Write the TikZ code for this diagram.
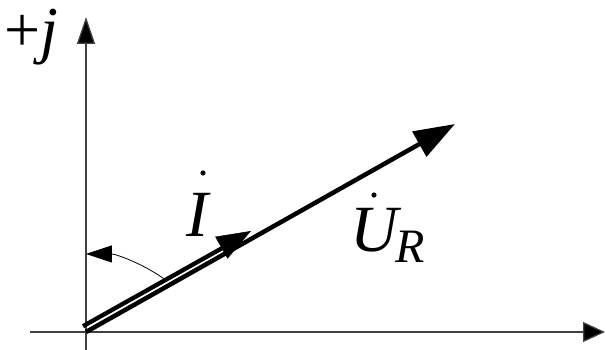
\documentclass[tikz,border=0pt]{standalone}
\usepackage{fontspec}
\setmainfont{Liberation Serif}
\usetikzlibrary{arrows.meta,calc}
\tikzset{
  axis/.style={line width=1.3pt, black!75},
  bigtxt/.style={inner sep=0pt, font=\fontsize{66}{66}\selectfont},
  subtxt/.style={inner sep=0pt, font=\fontsize{48}{48}\selectfont},
  jtxt/.style={inner sep=0pt, font=\fontsize{64}{64}\selectfont},
  vecU/.style={line width=4.5pt, -{Triangle[length=41pt,width=28pt]}},
  vecIline/.style={draw=black, line width=4.3pt},
  vecItip/.style={line width=0.5pt, -{Triangle[length=34pt,width=25pt]}},
  dotmark/.style={fill=black, draw=none}
}
\begin{document}
\begin{tikzpicture}[x=1pt,y=-1pt]
\useasboundingbox (0,0) rectangle (606,350);
% coordinates
\coordinate (O) at (86,332);
\coordinate (xs) at (30,332);
\coordinate (xe) at (605,332);
\coordinate (ys) at (86,350);
\coordinate (ye) at (86,17);
\coordinate (UT) at (455,124);
\coordinate (I0) at (83,326.2);
\coordinate (I1) at (227,245.4);
\coordinate (IB) at (219,249);
\coordinate (IT) at (251,231);
\coordinate (A0) at (167,281);
% axes
\draw[axis, -{Triangle[length=22pt,width=20pt,fill=black]}] (xs) -- (xe);
\draw[axis, -{Triangle[length=27pt,width=18pt,fill=black]}] (ys) -- (ye);
% U_R phasor
\draw[vecU] (O) -- (UT);
% I phasor: upper stroke of the double line (lower stroke shared with U_R)
\draw[vecIline] (I0) -- (I1);
\draw[vecItip] (IB) -- (IT);
% angle arc
\draw[line width=0.8pt, -{Triangle[length=26pt,width=17pt]}] (A0) arc[start angle=-53.1, end angle=-90, radius=135];
% labels
\node[jtxt, anchor=base west] (lj) at (4,52) {+\textit{j}};
\node[bigtxt, anchor=base] (lI) at (199,237) {\textit{I}};
\fill[dotmark] (203,173) circle (2.6);
\node[bigtxt, anchor=base west] (lU) at (350,252) {\textit{U}};
\node[subtxt, anchor=base west] (lR) at (395,262) {\textit{R}};
\fill[dotmark] (374,195) circle (2.6);
\end{tikzpicture}
\end{document}
